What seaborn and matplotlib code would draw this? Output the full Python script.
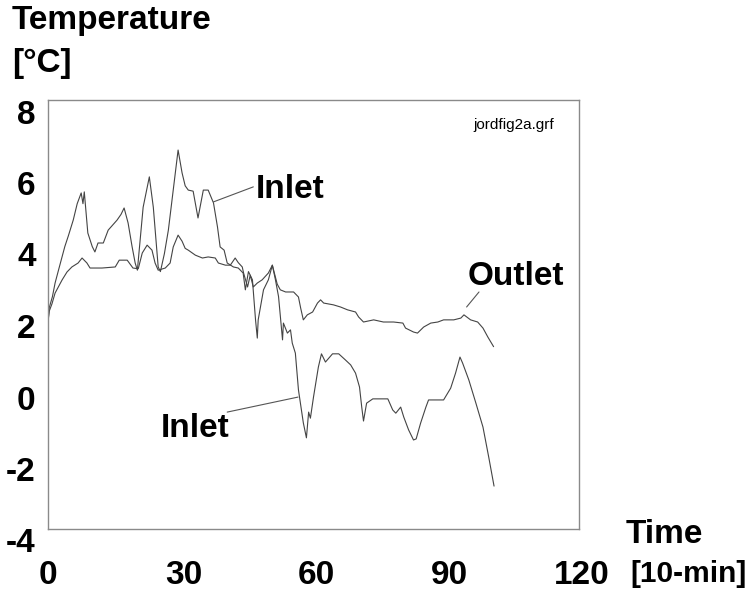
import numpy as np
import pandas as pd
import matplotlib
matplotlib.use("Agg")
import matplotlib.pyplot as plt
from matplotlib.transforms import ScaledTranslation
import seaborn as sns

# ---- data ----
inlet_t = [0, 0.3, 1.0, 1.6, 2.5, 3.8, 4.6, 5.7, 6.6, 7.5, 7.9, 8.2, 9.0, 10.0, 10.6, 11.3,
           12.5, 13.6, 15.6, 16.5, 17.2, 18.1, 19.0, 19.7, 20.2, 21.5, 22.9, 23.8, 24.9,
           25.4, 26.3, 27.2, 28.3, 29.4, 30.3, 31.0, 31.7, 32.8, 33.9, 35.1, 36.2, 37.4,
           38.3, 38.9, 39.8, 40.5, 41.9, 43.0, 44.1, 44.6, 45.3, 46.2, 46.9, 47.3, 47.5,
           48.7, 49.8, 50.7, 51.4, 52.1, 53.0, 53.2, 54.1, 54.8, 55.2, 55.9, 56.6, 57.7,
           58.4, 58.9, 59.3, 60.0, 61.1, 61.8, 62.7, 64.3, 65.7, 67.2, 68.4, 69.5, 70.4,
           70.9, 71.3, 72.0, 73.4, 76.8, 77.9, 78.6, 79.7, 80.4, 81.5, 82.6, 83.2, 84.2,
           85.4, 86.0, 89.4, 91.0, 92.1, 93.1, 93.7, 95.1, 96.7, 98.3, 99.6, 100.8]
inlet_v = [1.8, 2.2, 2.5, 2.88, 3.3, 3.9, 4.2, 4.64, 5.1, 5.4, 5.1, 5.43, 4.28, 3.9, 3.75, 4.0,
           4.0, 4.36, 4.64, 4.8, 4.98, 4.56, 3.9, 3.44, 3.24, 5.0, 5.85, 5.0, 3.33,
           3.2, 3.7, 4.36, 5.48, 6.6, 5.96, 5.6, 5.48, 5.45, 4.7, 5.48, 5.48, 5.12,
           4.45, 3.89, 3.8, 3.44, 3.33, 3.3, 3.16, 2.69, 3.2, 2.97, 1.85, 1.34, 1.85,
           2.69, 2.97, 3.38, 2.97, 2.5, 1.29, 1.76, 1.48, 1.57, 1.2, 0.92, -0.11, -1.03,
           -1.45, -0.73, -0.9, -0.31, 0.53, 0.9, 0.67, 0.9, 0.9, 0.73, 0.59, 0.36, -0.03,
           -0.59, -0.98, -0.48, -0.36, -0.36, -0.67, -0.76, -0.59, -0.87, -1.23, -1.51, -1.48, -1.04,
           -0.59, -0.39, -0.39, -0.06, 0.36, 0.81, 0.64, 0.17, -0.48, -1.15, -1.99, -2.8]

outlet_t = [0, 0.3, 0.9, 1.6, 3.2, 4.3, 5.4, 6.8, 7.7, 8.8, 9.5, 12.2, 15.2, 16.1, 17.9,
            19.2, 20.4, 21.3, 22.4, 23.5, 24.2, 24.9, 26.5, 27.6, 28.3, 29.4, 30.3, 31.0,
            31.7, 33.3, 34.9, 36.2, 37.8, 38.5, 40.1, 41.2, 42.3, 43.0, 43.9, 44.2, 45.1,
            45.7, 46.4, 47.3, 48.4, 49.8, 50.7, 51.8, 52.5, 53.7, 55.5, 56.6, 57.1, 57.7,
            58.6, 59.8, 60.9, 61.6, 62.3, 64.5, 66.1, 67.7, 69.5, 70.2, 71.3, 73.6, 75.8,
            78.1, 80.2, 80.8, 82.6, 83.5, 84.9, 86.5, 88.1, 89.4, 91.7, 93.3, 94.0, 95.5,
            97.1, 98.3, 99.4, 100.7]
outlet_v = [1.8, 2.1, 2.3, 2.6, 2.97, 3.19, 3.33, 3.44, 3.58, 3.44, 3.3, 3.3, 3.33, 3.52, 3.52,
            3.3, 3.28, 3.72, 3.94, 3.8, 3.44, 3.24, 3.3, 3.44, 3.89, 4.22, 4.05, 3.85,
            3.8, 3.66, 3.58, 3.61, 3.58, 3.44, 3.38, 3.38, 3.58, 3.45, 3.33, 3.16, 2.77,
            3.1, 2.77, 2.88, 2.97, 3.16, 3.38, 2.85, 2.69, 2.63, 2.63, 2.49, 2.18, 1.85,
            1.99, 2.07, 2.32, 2.41, 2.32, 2.27, 2.21, 2.13, 2.07, 1.93, 1.79, 1.85, 1.79,
            1.79, 1.76, 1.62, 1.51, 1.48, 1.65, 1.76, 1.79, 1.85, 1.85, 1.9, 1.99, 1.85,
            1.79, 1.62, 1.37, 1.1]

x_ticks = [0, 15, 30, 45, 60, 75, 90, 105, 120]
x_labels = ["0", "", "30", "", "60", "", "90", "", "120"]
y_ticks = [-4, -3, -2, -1, 0, 1, 2, 3, 4, 5, 6, 7, 8]
y_labels = ["-4", "", "-2", "", "0", "", "2", "", "4", "", "6", "", "8"]

df = pd.concat([
    pd.DataFrame({"t": inlet_t, "v": inlet_v, "series": "Inlet"}),
    pd.DataFrame({"t": outlet_t, "v": outlet_v, "series": "Outlet"}),
], ignore_index=True)

# ---- style ----
sns.set_style("white")
plt.rcParams["font.family"] = ["Liberation Sans", "DejaVu Sans"]
plt.rcParams["axes.unicode_minus"] = False

W, H = 755, 591
fig = plt.figure(figsize=(W / 100, H / 100), dpi=100)
ax = fig.add_axes([48 / W, 1 - 529 / H, 531 / W, 429 / H])

line_col = "#444444"
sns.lineplot(data=df, x="t", y="v", hue="series", units="series", estimator=None,
             sort=False, palette={"Inlet": line_col, "Outlet": line_col},
             linewidth=0.8, legend=False, ax=ax)

ax.set_xlim(0, 120)
ax.set_ylim(-4, 8)
ax.set_xlabel("")
ax.set_ylabel("")

spine_col = "#8a8a8a"
for s in ax.spines.values():
    s.set_visible(True)
    s.set_color(spine_col)
    s.set_linewidth(1.0)

ax.set_xticks(x_ticks)
ax.set_xticklabels(x_labels)
ax.set_yticks(y_ticks)
ax.set_yticklabels(y_labels)
ax.tick_params(axis="both", which="major", direction="out", color=spine_col, width=1.0,
               labelsize=24, labelcolor="black")
ax.tick_params(axis="x", length=6.5, pad=16)
ax.tick_params(axis="y", length=6, pad=3)
for lbl in ax.get_xticklabels() + ax.get_yticklabels():
    lbl.set_fontweight("bold")
# y labels sit just below their tick in the reference
off = ScaledTranslation(0, -0.115, fig.dpi_scale_trans)
for tk in ax.yaxis.get_major_ticks():
    tk.label1.set_transform(tk.label1.get_transform() + off)
# x labels slightly to the right
offx = ScaledTranslation(0.03, 0, fig.dpi_scale_trans)
for tk in ax.xaxis.get_major_ticks()[1:]:
    tk.label1.set_transform(tk.label1.get_transform() + offx)

# ---- annotations ----
lbl_kw = dict(fontsize=24, fontweight="bold", color="black", va="baseline", ha="left")
ax.text(46.9, 5.26, "Inlet", **lbl_kw)
ax.text(94.9, 2.83, "Outlet", **lbl_kw)
ax.text(25.4, -1.43, "Inlet", **lbl_kw)
arrow = dict(arrowstyle="-", color="#555555", lw=0.8, shrinkA=0, shrinkB=0)
ax.annotate("", xy=(37.4, 5.15), xytext=(46.4, 5.57), arrowprops=arrow)
ax.annotate("", xy=(94.6, 2.21), xytext=(97.4, 2.63), arrowprops=arrow)
ax.annotate("", xy=(56.5, -0.31), xytext=(40.5, -0.73), arrowprops=arrow)

ax.text(473 / W, 1 - 129 / H, "jordfig2a.grf", transform=fig.transFigure,
        fontsize=11, color="black", ha="left", va="baseline")

# ---- axis titles ----
tt = dict(fontsize=24, fontweight="bold", color="black", ha="left", va="baseline")
fig.text(12 / W, 1 - 29 / H, "Temperature", **tt)
fig.text(12 / W, 1 - 72 / H, "[°C]", **tt)
fig.text(626 / W, 1 - 543 / H, "Time", **tt)
fig.text(630 / W, 1 - 582 / H, "[10-min]",
         **{**tt, "fontsize": 21.5})

fig.savefig("out.png", dpi=100)
